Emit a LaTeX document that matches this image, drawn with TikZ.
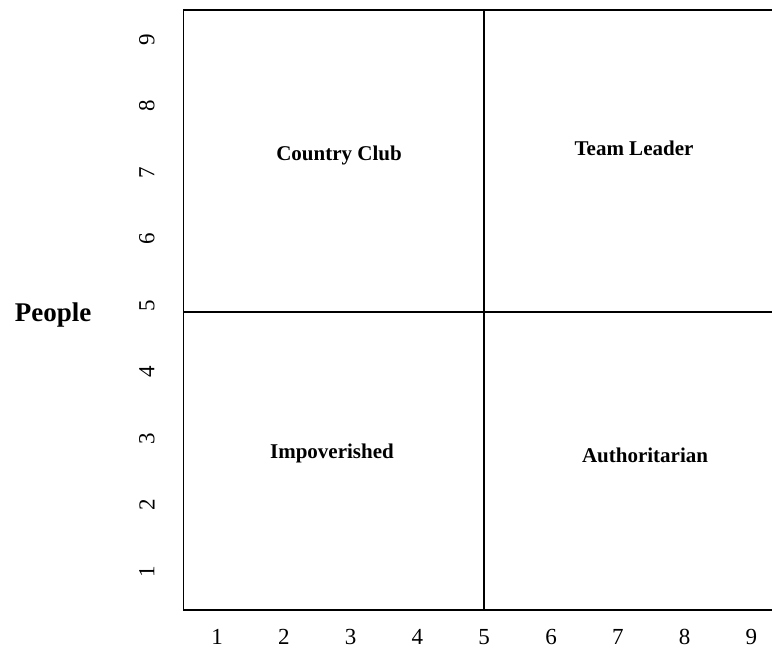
\documentclass[tikz,border=0pt]{standalone}
\usepackage{fontspec}
\setmainfont{Liberation Serif}
\usetikzlibrary{positioning}
\tikzstyle{tick}=[
	inner sep=0,
	font=\fontsize{23}{26}\selectfont]
\tikzstyle{quad}=[
	inner sep=0,
	anchor=base,
	font=\fontsize{21}{24}\selectfont\bfseries]
\tikzstyle{axis}=[
	inner sep=0,
	anchor=base,
	font=\fontsize{27}{30}\selectfont\bfseries]
\tikzstyle{divider}=[
	draw=black,
	line width=1.7pt]

\begin{document}
\begin{tikzpicture}[x=66.8pt,y=66.5pt]
	\useasboundingbox (-2.249,-0.293) rectangle (9.308,9.632);
	% frame of the grid
	\coordinate (tl) at (0.5,9.48);
	\coordinate (bl) at (0.5,0.46);
	\coordinate (br) at (9.31,0.46);
	\coordinate (tm) at (5,9.48);
	\coordinate (bm) at (5,0.46);
	\coordinate (ml) at (0.5,4.943);
	\coordinate (mr) at (9.31,4.943);
	\coordinate (tr) at (9.31,9.48);
	\draw[divider] (tr) -- (tl) -- (bl) -- (br);
	\draw[divider] (tm) -- (bm);
	\draw[divider] (ml) -- (mr);
	% scale numbers
	\foreach \i in {1,...,9}{
		\node[tick] (x\i) at (\i,0.05) {\i};
		\node[tick,rotate=90] (y\i) at (-0.05,\i+0.04) {\i};
	}
	\node[axis] (people) at (-1.455,4.797) {People};
	% the four styles
	\node[quad] (club) at (2.826,7.225) {Country Club};
	\node[quad] (team) at (7.242,7.30) {Team Leader};
	\node[quad] (poor) at (2.72,2.744) {Impoverished};
	\node[quad] (auth) at (7.407,2.684) {Authoritarian};
\end{tikzpicture}
\end{document}
